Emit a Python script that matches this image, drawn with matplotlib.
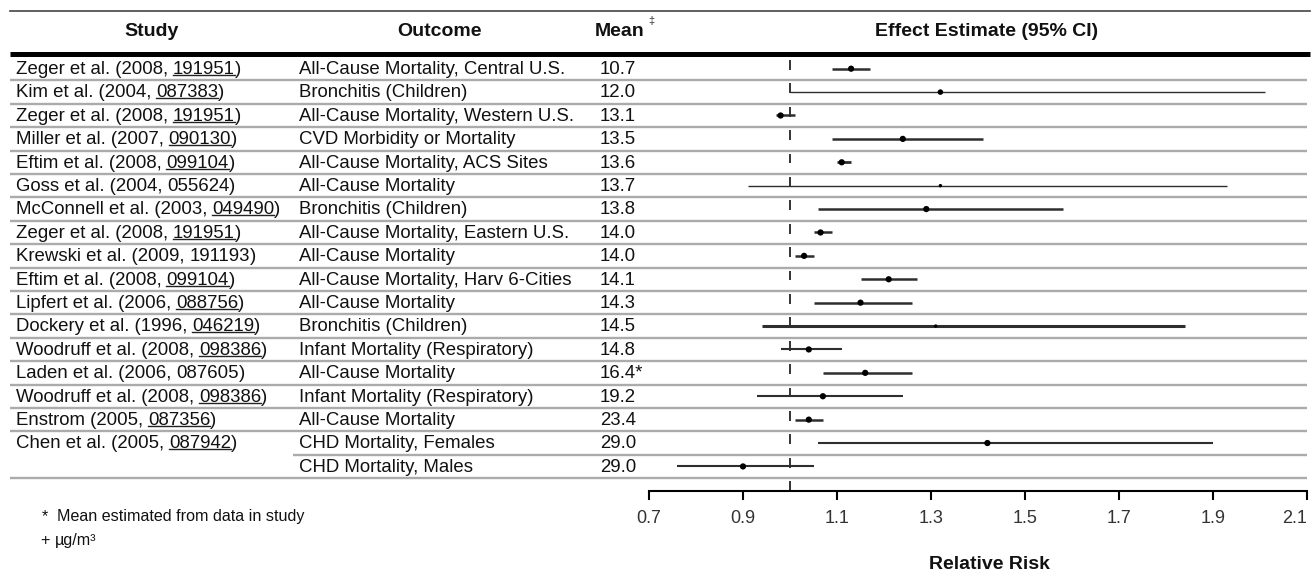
import numpy as np
import matplotlib
matplotlib.use('Agg')
import matplotlib.pyplot as plt
import matplotlib.transforms as mtransforms
from matplotlib.lines import Line2D
from matplotlib import font_manager

# table columns
study = ['Zeger et al.', 'Kim et al.', 'Zeger et al.', 'Miller et al.', 'Eftim et al.',
         'Goss et al.', 'McConnell et al.', 'Zeger et al.', 'Krewski et al.', 'Eftim et al.',
         'Lipfert et al.', 'Dockery et al.', 'Woodruff et al.', 'Laden et al.',
         'Woodruff et al.', 'Enstrom', 'Chen et al.', '']
year = ['2008', '2004', '2008', '2007', '2008', '2004', '2003', '2008', '2009', '2008',
        '2006', '1996', '2008', '2006', '2008', '2005', '2005', '']
ref_id = ['191951', '087383', '191951', '090130', '099104', '055624', '049490', '191951',
          '191193', '099104', '088756', '046219', '098386', '087605', '098386', '087356',
          '087942', '']
linked = [1, 1, 1, 1, 1, 0, 1, 1, 0, 1, 1, 1, 1, 0, 1, 1, 1, 0]
outcome = ['All-Cause Mortality, Central U.S.', 'Bronchitis (Children)',
           'All-Cause Mortality, Western U.S.', 'CVD Morbidity or Mortality',
           'All-Cause Mortality, ACS Sites', 'All-Cause Mortality', 'Bronchitis (Children)',
           'All-Cause Mortality, Eastern U.S.', 'All-Cause Mortality',
           'All-Cause Mortality, Harv 6-Cities', 'All-Cause Mortality', 'Bronchitis (Children)',
           'Infant Mortality (Respiratory)', 'All-Cause Mortality',
           'Infant Mortality (Respiratory)', 'All-Cause Mortality', 'CHD Mortality, Females',
           'CHD Mortality, Males']
mean_conc = ['10.7', '12.0', '13.1', '13.5', '13.6', '13.7', '13.8', '14.0', '14.0', '14.1',
             '14.3', '14.5', '14.8', '16.4*', '19.2', '23.4', '29.0', '29.0']

# effect estimates (relative risk, 95% CI)
rr = [1.13, 1.32, 0.98, 1.24, 1.11, 1.32, 1.29, 1.065, 1.03, 1.21,
      1.15, 1.31, 1.04, 1.16, 1.07, 1.04, 1.42, 0.90]
ci_lo = [1.09, 1.00, 0.97, 1.09, 1.10, 0.91, 1.06, 1.05, 1.01, 1.15,
         1.05, 0.94, 0.98, 1.07, 0.93, 1.01, 1.06, 0.76]
ci_hi = [1.17, 2.01, 1.01, 1.41, 1.13, 1.93, 1.58, 1.09, 1.05, 1.27,
         1.26, 1.84, 1.11, 1.26, 1.24, 1.07, 1.90, 1.05]
xticks = [0.7, 0.9, 1.1, 1.3, 1.5, 1.7, 1.9, 2.1]

# line / dot styles per row
ci_width = [1.8, 1.0, 1.8, 1.8, 2.0, 1.0, 1.8, 1.8, 1.8, 1.8, 1.8, 2.2, 1.5, 1.8, 1.5, 1.8, 1.5, 1.5]
dot_size = [4.5, 4, 4.5, 4.5, 4.5, 2.5, 4.5, 4.5, 4.5, 4.5, 4.5, 2.5, 4.5, 4.5, 4.5, 4.5, 4.5, 4.5]

have = {f.name for f in font_manager.fontManager.ttflist}
if 'Liberation Sans Narrow' in have:
    body_font, body_size, note_size = 'Liberation Sans Narrow', 16.3, 13.5
else:
    body_font, body_size, note_size = 'Liberation Sans', 13.4, 11.6
plt.rcParams['font.family'] = [body_font, 'DejaVu Sans']
head = dict(family=['Liberation Sans', 'DejaVu Sans'], fontweight='bold', fontsize=14, color='#111')

W, H = 1313, 577
fig = plt.figure(figsize=(W / 100, H / 100), dpi=100)
ax = fig.add_axes([649 / W, 1 - 491 / H, 658 / W, 434 / H])
n = len(rr)
rows = np.arange(n) + 0.5
ax.set_xlim(0.7, 2.1)
ax.set_ylim(18.55, 0)

blend = mtransforms.blended_transform_factory(fig.transFigure, ax.transData)

# row separators and top rules
sep_start = [10 / W] * n
sep_start[16] = 293 / W
ax.hlines(np.arange(1, n + 1), sep_start, 1307 / W, transform=blend, colors='#ababab',
          linewidth=1.7, clip_on=False, zorder=1)
ax.hlines(-0.11, 10 / W, 1310 / W, transform=blend, colors='black', linewidth=3.6, clip_on=False)
fig.add_artist(Line2D([10 / W, 1310 / W], [1 - 11 / H] * 2, lw=1.2, color='#444'))

# reference line at RR = 1, drawn as one dash per row
dash_top = np.arange(n + 1) + 0.13
dash_bot = np.append(np.arange(n) + 0.55, 18.55)
ax.vlines(np.full(n + 1, 1.0), dash_top, dash_bot, colors='#333', linewidth=1.4, zorder=2)

# confidence intervals and point estimates
ax.hlines(rows, ci_lo, ci_hi, colors='#2e2e2e', linewidths=ci_width, zorder=3)
ax.scatter(rr, rows, s=np.array(dot_size) ** 2, color='black', zorder=4, linewidths=0)

for s in ['top', 'right', 'left']:
    ax.spines[s].set_visible(False)
ax.spines['bottom'].set_linewidth(1.5)
ax.set_yticks([])
ax.set_xticks(xticks)
ax.set_xticklabels([f'{t:.1f}' for t in xticks], family=['Liberation Sans', 'DejaVu Sans'])
ax.tick_params(axis='x', length=6.5, width=1.5, pad=7, labelsize=13, labelcolor='#333')
ax.get_xticklabels()[-1].set_horizontalalignment('right')
ax.set_xlabel('Relative Risk', **head)
ax.xaxis.set_label_coords(0.517, -0.149)

# headers
fig.text(152 / W, 1 - 32 / H, 'Study', ha='center', va='center', **head)
fig.text(439 / W, 1 - 32 / H, 'Outcome', ha='center', va='center', **head)
fig.text(595 / W, 1 - 32 / H, 'Mean', ha='left', va='center', **head)
fig.text(648 / W, 1 - 21 / H, '\u2021', ha='left', va='center', fontsize=8, color='#333')
fig.text(987 / W, 1 - 32 / H, 'Effect Estimate (95% CI)', ha='center', va='center', **head)

# table body
body = dict(fontsize=body_size, color='#111', transform=blend, va='center_baseline')
id_texts = []
for i in range(n):
    y = i + 0.45
    if study[i]:
        t1 = ax.text(16 / W, y, f'{study[i]} ({year[i]},', ha='left', **body)
        t2 = ax.annotate(ref_id[i], xy=(1, 0), xycoords=t1, xytext=(0.25 * body_size, 0),
                         textcoords='offset points', ha='left', va='bottom',
                         fontsize=body_size, color='#111')
        ax.annotate(')', xy=(1, 0), xycoords=t2, ha='left', va='bottom',
                    fontsize=body_size, color='#111')
        if linked[i]:
            id_texts.append(t2)
    ax.text(299 / W, y, outcome[i], ha='left', **body)
    ax.text(600 / W, y, mean_conc[i], ha='left', **body)

# footnotes
fig.text(42 / W, 1 - 517 / H, '*', fontsize=note_size, va='center', color='#111')
fig.text(57 / W, 1 - 517 / H, 'Mean estimated from data in study', fontsize=note_size,
         va='center', color='#111')
fig.text(40 / W, 1 - 540 / H, '+', fontsize=note_size, va='center', color='#111')
fig.text(55 / W, 1 - 540 / H, '\u00b5g/m\u00b3', fontsize=note_size, va='center', color='#111')

# underline the linked reference ids
fig.canvas.draw()
inv = fig.transFigure.inverted()
for t in id_texts:
    bb = t.get_window_extent()
    (x0, y0), (x1, _) = inv.transform([[bb.x0, bb.y0], [bb.x1, bb.y1]])
    fig.add_artist(Line2D([x0, x1], [y0 + 3 / H] * 2, lw=1.0, color='#222'))

fig.savefig('out.png', dpi=100)
